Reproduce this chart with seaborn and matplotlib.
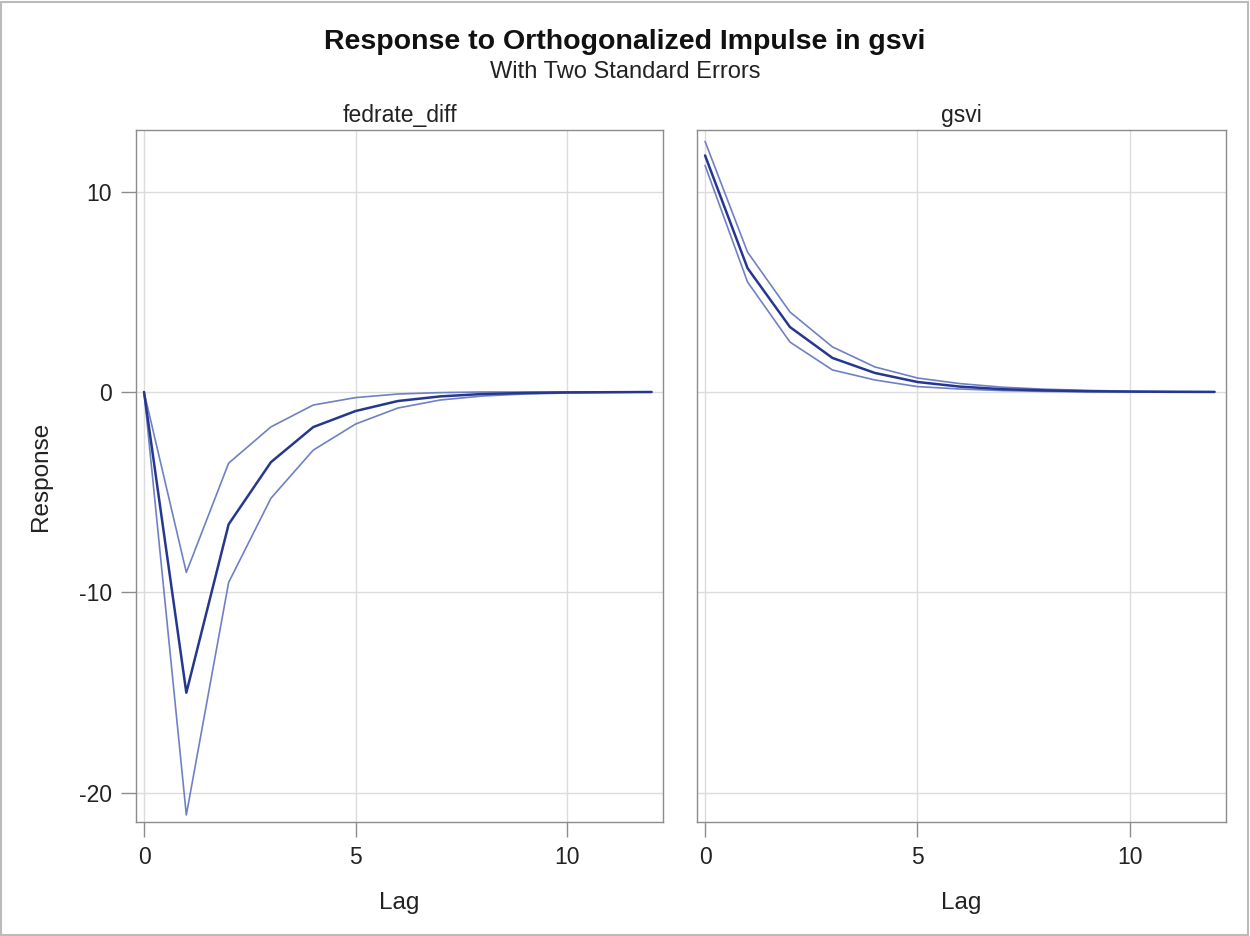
import numpy as np
import pandas as pd
import matplotlib
matplotlib.use("Agg")
import matplotlib.pyplot as plt
import seaborn as sns

sns.set_style("white")
plt.rcParams['font.family'] = ['Liberation Sans', 'DejaVu Sans']
plt.rcParams['axes.unicode_minus'] = False

lags = list(range(13))
panels = ["fedrate_diff", "gsvi"]

fed_resp = [0, -15.0, -6.6, -3.5, -1.75, -0.95, -0.45, -0.22, -0.1, -0.05, -0.02, -0.01, 0]
fed_upper = [0, -9.0, -3.55, -1.74, -0.65, -0.28, -0.1, -0.03, 0, 0, 0, 0, 0]
fed_lower = [0, -21.1, -9.5, -5.3, -2.9, -1.6, -0.8, -0.4, -0.2, -0.1, -0.05, -0.02, 0]

gsvi_resp = [11.8, 6.18, 3.24, 1.7, 0.95, 0.5, 0.27, 0.14, 0.08, 0.04, 0.02, 0.01, 0.005]
gsvi_upper = [12.5, 6.98, 3.99, 2.25, 1.25, 0.7, 0.42, 0.24, 0.14, 0.08, 0.04, 0.02, 0.01]
gsvi_lower = [11.3, 5.49, 2.49, 1.1, 0.6, 0.27, 0.15, 0.07, 0.03, 0.01, 0.005, 0, 0]

xticks = [0, 5, 10]
yticks = [-20, -10, 0, 10]

rows = []
for panel, r, u, l in [("fedrate_diff", fed_resp, fed_upper, fed_lower),
                       ("gsvi", gsvi_resp, gsvi_upper, gsvi_lower)]:
    for name, vals in [("resp", r), ("upper", u), ("lower", l)]:
        for lag, v in zip(lags, vals):
            rows.append({"panel": panel, "series": name, "Lag": lag, "Response": v})
df = pd.DataFrame(rows)

W, H = 1250, 936
fig = plt.figure(figsize=(12.5, 9.36), dpi=100)
left, right_l = 136 / W, 663 / W
left2, right2 = 697 / W, 1226 / W
bottom, top = 1 - 822 / H, 1 - 130 / H
ax1 = fig.add_axes([left, bottom, right_l - left, top - bottom])
ax2 = fig.add_axes([left2, bottom, right2 - left2, top - bottom], sharey=ax1)

center_col = "#26378f"
band_col = "#7080c4"
frame_col = "#8c8c8c"
grid_col = "#dcdcdc"
text_col = "#222222"

for ax, panel in zip([ax1, ax2], panels):
    sub = df[df.panel == panel]
    for name in ["upper", "lower"]:
        sns.lineplot(data=sub[sub.series == name], x="Lag", y="Response", ax=ax,
                     color=band_col, linewidth=1.2, estimator=None, legend=False)
    sns.lineplot(data=sub[sub.series == "resp"], x="Lag", y="Response", ax=ax,
                 color=center_col, linewidth=1.8, estimator=None, legend=False)
    ax.set_xlim(-0.19, 12.27)
    ax.set_ylim(-21.45, 13.07)
    ax.set_xticks(xticks)
    ax.set_yticks(yticks)
    ax.grid(True, color=grid_col, linewidth=1.0)
    ax.set_axisbelow(True)
    for s in ax.spines.values():
        s.set_color(frame_col)
        s.set_linewidth(1.0)
    ax.tick_params(axis="both", direction="out", length=10.5, width=1, color=frame_col,
                   labelsize=16.5, labelcolor=text_col, pad=7,
                   bottom=True, left=True)
    ax.set_xlabel("Lag", fontsize=17.5, color=text_col, labelpad=16.5)
    ax.set_title(panel, fontsize=16.5, color=text_col, pad=6)

ax1.set_ylabel("Response", fontsize=17.5, color=text_col, labelpad=19)
ax2.set_ylabel("")
ax2.tick_params(axis="y", left=False, labelleft=False)

fig.text(0.5, 1 - 42 / H, "Response to Orthogonalized Impulse in gsvi", ha="center", va="center",
         fontsize=20.5, fontweight="bold", color="#111111")
fig.text(0.5, 1 - 72 / H, "With Two Standard Errors", ha="center", va="center",
         fontsize=17, color=text_col)

border = plt.Rectangle((0.001, 0.001), 0.997, 0.997, transform=fig.transFigure,
                       fill=False, edgecolor="#bbbbbb", linewidth=1.5)
fig.patches.append(border)

fig.savefig("out.png", dpi=100, facecolor="white")
